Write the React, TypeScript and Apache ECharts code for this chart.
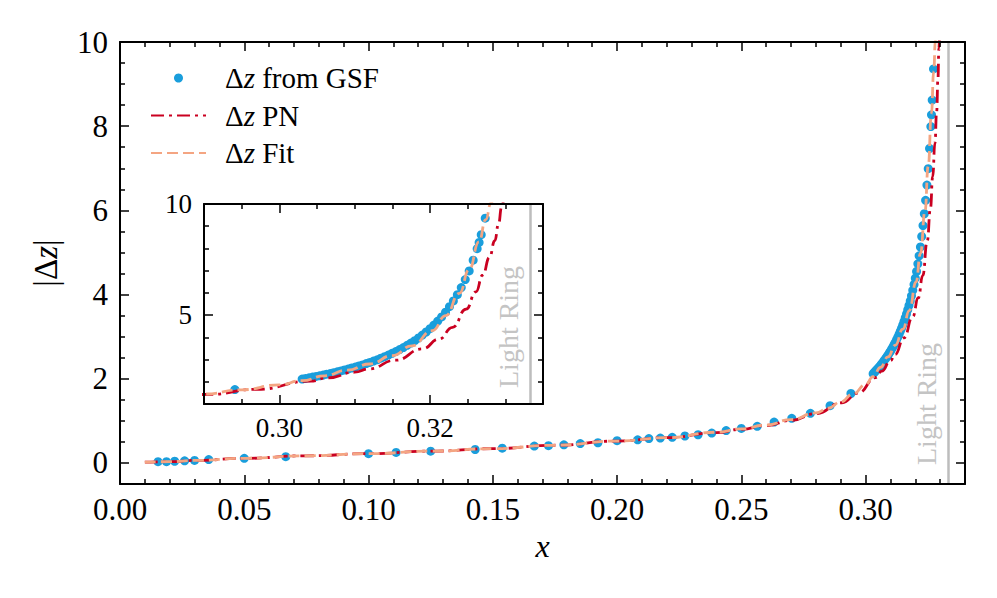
import React, { useEffect, useRef } from 'react';
import * as echarts from 'echarts';

// ---------- data ----------
const GSF_X = [
  0.0153, 0.0187, 0.0220, 0.0260, 0.0300, 0.0357, 0.0500, 0.0667, 0.1000, 0.1111,
  0.1250, 0.1429, 0.1538, 0.1667, 0.1724, 0.1786, 0.1852, 0.1923, 0.2000, 0.2083,
  0.2128, 0.2174, 0.2222, 0.2273, 0.2326, 0.2381, 0.2439, 0.2500, 0.2564, 0.2632,
  0.2703, 0.2778, 0.2857, 0.2941,
  0.30303, 0.30349, 0.30395, 0.30441, 0.30488, 0.30534, 0.30581, 0.30628, 0.30675, 0.30722,
  0.30769, 0.30817, 0.30864, 0.30912, 0.30960, 0.31008, 0.31056, 0.31104, 0.31153, 0.31201,
  0.31250, 0.31299, 0.31348, 0.31397, 0.31447, 0.31496, 0.31546, 0.31596, 0.31646, 0.31696,
  0.31746, 0.31797, 0.31847, 0.31898, 0.31949, 0.32000, 0.32051, 0.32103, 0.32154, 0.32206,
  0.32258, 0.32310, 0.32363, 0.32415, 0.32468, 0.32520, 0.32573, 0.32626, 0.32652, 0.32680,
  0.32733,
];
const GSF_Y = [
  0.03, 0.03, 0.04, 0.05, 0.06, 0.08, 0.11, 0.15, 0.22, 0.25,
  0.28, 0.32, 0.35, 0.40, 0.41, 0.43, 0.46, 0.48, 0.53, 0.55,
  0.58, 0.59, 0.61, 0.64, 0.67, 0.71, 0.77, 0.82, 0.87, 0.97,
  1.06, 1.18, 1.36, 1.65,
  2.12, 2.15, 2.18, 2.21, 2.24, 2.27, 2.30, 2.34, 2.37, 2.41,
  2.45, 2.49, 2.53, 2.57, 2.62, 2.66, 2.71, 2.76, 2.82, 2.87,
  2.93, 2.99, 3.06, 3.13, 3.20, 3.28, 3.36, 3.45, 3.54, 3.64,
  3.74, 3.85, 3.97, 4.10, 4.24, 4.39, 4.55, 4.73, 4.92, 5.13,
  5.38, 5.64, 5.92, 6.24, 6.60, 6.99, 7.47, 7.99, 8.27, 8.62,
  9.36,
];

const PN_X = [
  0.010, 0.020, 0.030, 0.050, 0.075, 0.100, 0.125, 0.150, 0.175, 0.200,
  0.220, 0.240, 0.250, 0.260, 0.270, 0.280, 0.2905, 0.2970, 0.3041, 0.3065,
  0.3100, 0.3119, 0.3154, 0.3190, 0.3212, 0.3230, 0.3248, 0.3261, 0.3270, 0.3279,
  0.3286, 0.3291, 0.3295, 0.3300,
];
const PN_Y = [
  0.02, 0.03, 0.06, 0.11, 0.17, 0.22, 0.28, 0.34, 0.42, 0.52,
  0.60, 0.72, 0.80, 0.89, 1.01, 1.17, 1.43, 1.66, 2.03, 2.18,
  2.43, 2.58, 2.97, 3.48, 3.92, 4.45, 5.27, 6.05, 6.80, 7.60,
  8.35, 9.10, 9.85, 11.0,
];

const FIT_X = [
  0.010, 0.020, 0.030, 0.050, 0.075, 0.100, 0.125, 0.150, 0.175, 0.200,
  0.220, 0.240, 0.250, 0.260, 0.270, 0.280, 0.285, 0.290, 0.295, 0.300,
  0.303, 0.306, 0.309, 0.312, 0.315, 0.3176, 0.3203, 0.3221, 0.3239, 0.3252,
  0.3265, 0.3274, 0.3281, 0.3287,
];
const FIT_Y = [
  0.02, 0.03, 0.06, 0.11, 0.17, 0.22, 0.28, 0.34, 0.42, 0.52,
  0.60, 0.73, 0.81, 0.90, 1.03, 1.19, 1.30, 1.45, 1.64, 1.86,
  2.05, 2.27, 2.52, 2.80, 3.18, 3.62, 4.30, 4.98, 5.98, 7.05,
  8.30, 9.30, 10.05, 10.7,
];

const LIGHT_RING_X = 0.33333;

// axis ranges and tick labels
const MAIN_X_RANGE = [0, 0.34];
const MAIN_Y_RANGE = [-0.5, 10];
const MAIN_X_MAJOR = [0, 0.05, 0.1, 0.15, 0.2, 0.25, 0.3];
const MAIN_X_MINOR = [
  0.01, 0.02, 0.03, 0.04, 0.06, 0.07, 0.08, 0.09, 0.11, 0.12, 0.13, 0.14,
  0.16, 0.17, 0.18, 0.19, 0.21, 0.22, 0.23, 0.24, 0.26, 0.27, 0.28, 0.29,
  0.31, 0.32, 0.33,
];
const MAIN_Y_MAJOR = [0, 2, 4, 6, 8, 10];
const MAIN_Y_MINOR = [0.5, 1, 1.5, 2.5, 3, 3.5, 4.5, 5, 5.5, 6.5, 7, 7.5, 8.5, 9, 9.5];

const INSET_X_RANGE = [0.29, 0.335];
const INSET_Y_RANGE = [1, 10];
const INSET_X_MAJOR = [0.3, 0.32];
const INSET_X_MINOR = [0.295, 0.305, 0.31, 0.315, 0.325, 0.33];
const INSET_Y_MAJOR = [5, 10];
const INSET_Y_MINOR = [2, 3, 4, 6, 7, 8, 9];

const SERIES_NAMES = ['Δz from GSF', 'Δz PN', 'Δz Fit'];

// ---------- styling ----------
const FONT = '"Liberation Serif", "DejaVu Serif", serif';
const BLUE = '#1a9edc';
const RED = '#ca0020';
const ORANGE = '#f4a582';
const GRAY_LINE = '#bdbdbd';
const GRAY_TEXT = '#c4c4c4';

function axisSet(
  kind: 'x' | 'y',
  gridIndex: number,
  position: string,
  range: number[],
  major: number[],
  minor: number[],
  labels: boolean,
  fontSize: number,
  formatter: (v: number) => string,
  extra: any = {}
) {
  const base = {
    type: 'value',
    gridIndex,
    position,
    min: range[0],
    max: range[1],
    splitLine: { show: false },
    minorTick: { show: false },
    minorSplitLine: { show: false },
    z: 6,
  };
  const majorAxis = {
    ...base,
    axisLine: { show: true, onZero: false, lineStyle: { color: '#000', width: 2 } },
    axisTick: {
      show: true,
      inside: true,
      length: 9,
      customValues: major,
      lineStyle: { color: '#000', width: 1.5 },
    },
    axisLabel: {
      show: labels,
      customValues: major,
      formatter,
      color: '#000',
      fontFamily: FONT,
      fontSize,
      margin: kind === 'x' ? 10 : 12,
    },
    ...extra,
  };
  const minorAxis = {
    ...base,
    axisLine: { show: false, onZero: false },
    axisTick: {
      show: true,
      inside: true,
      length: 5,
      customValues: minor,
      lineStyle: { color: '#000', width: 1.5 },
    },
    axisLabel: { show: false },
  };
  return [majorAxis, minorAxis];
}

export default function App() {
  const ref = useRef<HTMLDivElement>(null);

  useEffect(() => {
    if (!ref.current) return;
    const chart = echarts.init(ref.current, null, { renderer: 'svg' });
    const zip = (xs: number[], ys: number[]) => xs.map((x, i) => [x, ys[i]]);
    const gsf = zip(GSF_X, GSF_Y);
    const pn = zip(PN_X, PN_Y);
    const fit = zip(FIT_X, FIT_Y);

    const f2 = (v: number) => v.toFixed(2);
    const f0 = (v: number) => String(Math.round(v));

    const xAxes = [
      ...axisSet('x', 0, 'bottom', MAIN_X_RANGE, MAIN_X_MAJOR, MAIN_X_MINOR, true, 31, f2, {
        name: 'x',
        nameLocation: 'middle',
        nameGap: 46,
        nameTextStyle: { fontFamily: FONT, fontSize: 32, fontStyle: 'italic', color: '#000' },
      }),
      ...axisSet('x', 0, 'top', MAIN_X_RANGE, MAIN_X_MAJOR, MAIN_X_MINOR, false, 31, f2),
      ...axisSet('x', 1, 'bottom', INSET_X_RANGE, INSET_X_MAJOR, INSET_X_MINOR, true, 27, f2),
      ...axisSet('x', 1, 'top', INSET_X_RANGE, INSET_X_MAJOR, INSET_X_MINOR, false, 27, f2),
    ];
    const yAxes = [
      ...axisSet('y', 0, 'left', MAIN_Y_RANGE, MAIN_Y_MAJOR, MAIN_Y_MINOR, true, 31, f0, {
        name: '|Δ{i|z}|',
        nameLocation: 'middle',
        nameGap: 58,
        nameRotate: 90,
        nameTextStyle: {
          fontFamily: FONT,
          fontSize: 33,
          color: '#000',
          rich: { i: { fontFamily: FONT, fontSize: 33, fontStyle: 'italic', color: '#000' } },
        },
      }),
      ...axisSet('y', 0, 'right', MAIN_Y_RANGE, MAIN_Y_MAJOR, MAIN_Y_MINOR, false, 31, f0),
      ...axisSet('y', 1, 'left', INSET_Y_RANGE, INSET_Y_MAJOR, INSET_Y_MINOR, true, 27, f0),
      ...axisSet('y', 1, 'right', INSET_Y_RANGE, INSET_Y_MAJOR, INSET_Y_MINOR, false, 27, f0),
    ];

    const lightRing = (dist: number[]) => ({
      silent: true,
      symbol: ['none', 'none'],
      animation: false,
      precision: 5,
      data: [{ xAxis: LIGHT_RING_X }],
      lineStyle: { color: GRAY_LINE, width: 2.5, type: 'solid' },
      label: {
        show: true,
        position: 'insideStartTop',
        formatter: 'Light Ring',
        color: GRAY_TEXT,
        fontFamily: FONT,
        fontSize: 28,
        distance: dist,
      },
      emphasis: { disabled: true },
    });

    const scatter = (xi: number, yi: number, dist: number[]) => ({
      type: 'scatter',
      name: SERIES_NAMES[0],
      xAxisIndex: xi,
      yAxisIndex: yi,
      data: gsf,
      symbol: 'circle',
      symbolSize: 9,
      itemStyle: { color: BLUE, opacity: 1 },
      clip: true,
      z: 2,
      markLine: lightRing(dist),
    });
    const curve = (name: string, data: number[][], color: string, dash: number[], xi: number, yi: number, z: number) => ({
      type: 'line',
      name,
      xAxisIndex: xi,
      yAxisIndex: yi,
      data,
      showSymbol: false,
      symbol: 'none',
      smooth: true,
      smoothMonotone: 'x',
      clip: true,
      lineStyle: { color, width: 2.8, type: dash },
      itemStyle: { color },
      z,
    });

    const option: any = {
      animation: false,
      backgroundColor: '#fff',
      grid: [
        { left: 120, top: 42, width: 845, height: 442, containLabel: false },
        {
          left: 204,
          top: 204,
          width: 339,
          height: 200,
          containLabel: false,
          show: true,
          backgroundColor: '#fff',
          borderWidth: 0,
        },
      ],
      xAxis: xAxes,
      yAxis: yAxes,
      legend: {
        orient: 'vertical',
        left: 145,
        top: 58,
        itemWidth: 55,
        itemHeight: 9,
        itemGap: 7.5,
        selectedMode: false,
        data: [
          { name: SERIES_NAMES[0] },
          { name: SERIES_NAMES[1], itemStyle: { opacity: 0 } },
          { name: SERIES_NAMES[2], itemStyle: { opacity: 0 } },
        ],
        formatter: (name: string) => name.replace('Δz', 'Δ{i|z}'),
        textStyle: {
          fontFamily: FONT,
          fontSize: 29,
          color: '#000',
          lineHeight: 30,
          padding: [0, 0, 0, 14],
          rich: { i: { fontFamily: FONT, fontSize: 29, fontStyle: 'italic', color: '#000', lineHeight: 30 } },
        },
      },
      series: [
        scatter(0, 0, [19, 8]),
        curve(SERIES_NAMES[1], pn, RED, [13, 5, 3, 5], 0, 0, 3),
        curve(SERIES_NAMES[2], fit, ORANGE, [11, 5], 0, 0, 4),
        scatter(4, 4, [16, 8]),
        curve(SERIES_NAMES[1], pn, RED, [13, 5, 3, 5], 4, 4, 3),
        curve(SERIES_NAMES[2], fit, ORANGE, [11, 5], 4, 4, 4),
      ],
    };

    chart.setOption(option);
    return () => chart.dispose();
  }, []);

  return (
    <div
      ref={ref}
      style={{ position: 'absolute', left: 0, top: 0, width: 997, height: 598, background: '#fff' }}
    />
  );
}
